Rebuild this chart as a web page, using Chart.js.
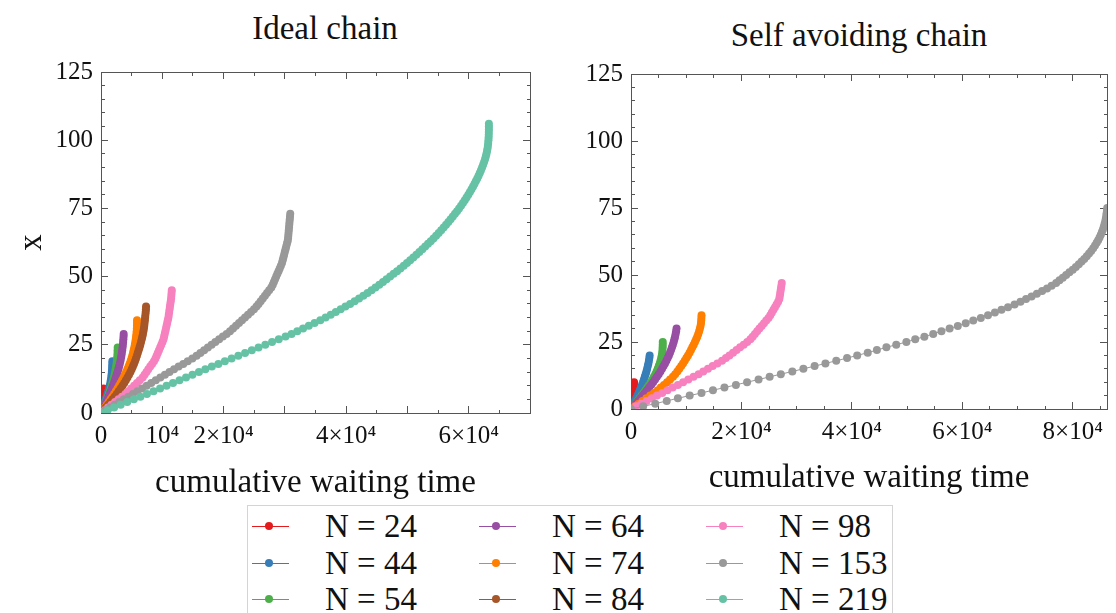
<!DOCTYPE html>
<html>
<head>
<meta charset="utf-8">
<script src="https://cdn.jsdelivr.net/npm/chart.js@4/dist/chart.umd.min.js"></script>
<style>
  html, body { margin: 0; padding: 0; background: #fff; }
  body { width: 1116px; height: 613px; overflow: hidden; position: relative; font-family: "Liberation Serif", "Times New Roman", serif; color: #111; }
  .ptitle { position: absolute; font-size: 33px; line-height: 1; white-space: nowrap; transform: translate(-50%, -50%); }
  canvas { position: absolute; top: 0; }
  #legend { position: absolute; left: 247px; top: 505px; width: 646px; height: 130px; border: 1px solid #d4d4d4; box-sizing: border-box; }
  .item { position: absolute; height: 36px; width: 226px; }
  .mline { position: absolute; left: 2px; top: 18px; width: 37px; height: 1px; }
  .mdot { position: absolute; left: 15px; top: 14px; width: 8px; height: 8px; border-radius: 50%; }
  .mtext { position: absolute; left: 75px; top: 0; font-size: 33px; line-height: 36px; white-space: nowrap; }
</style>
</head>
<body>
<div class="ptitle" id="t1" style="left:325px;top:28px;">Ideal chain</div>
<div class="ptitle" id="t2" style="left:859px;top:35px;">Self avoiding chain</div>
<canvas id="c1" width="560" height="500" style="left:0px;"></canvas>
<canvas id="c2" width="556" height="500" style="left:560px;"></canvas>
<div id="legend"></div>
<script>
// ---------------- data ----------------
const chainLengths = [24, 44, 54, 64, 74, 84, 98, 153, 219];
const seriesColors = ['#e41a1c', '#377eb8', '#4daf4a', '#984ea3', '#ff7f00', '#a65628', '#f781bf', '#999999', '#66c2a5'];

// cumulative waiting time at each position x = 0, 1, 2, ... (ideal chain)
const idealN24 = [0, 60, 120, 180, 230, 280, 320, 360, 385, 400];
const idealN44 = [0, 170, 330, 490, 640, 780, 910, 1050, 1180, 1310, 1420, 1520, 1600, 1670, 1720, 1760, 1795, 1820, 1840, 1850];
const idealN54 = [0, 200, 395, 585, 770, 945, 1115, 1280, 1440, 1590, 1735, 1870, 1995, 2110, 2215, 2310, 2395, 2470, 2535, 2590, 2635, 2670, 2695, 2712, 2720];
const idealN64 = [0, 220, 430, 640, 840, 1040, 1230, 1420, 1600, 1780, 1950, 2110, 2270, 2420, 2560, 2700, 2830, 2950, 3060, 3160, 3250, 3330, 3400, 3460, 3520, 3570, 3610, 3650, 3680, 3700];
const idealN74 = [0, 320, 640, 950, 1260, 1560, 1850, 2140, 2420, 2690, 2950, 3200, 3440, 3670, 3890, 4100, 4300, 4490, 4660, 4820, 4970, 5100, 5220, 5330, 5430, 5520, 5600, 5670, 5730, 5780, 5820, 5850, 5865, 5875, 5880];
const idealN84 = [0, 400, 790, 1170, 1540, 1900, 2240, 2570, 2890, 3200, 3500, 3790, 4060, 4320, 4570, 4800, 5010, 5200, 5380, 5550, 5710, 5860, 6000, 6140, 6280, 6410, 6530, 6650, 6750, 6840, 6920, 7000, 7060, 7110, 7160, 7200, 7250, 7290, 7330, 7350];
const idealN98 = [0, 570, 1140, 1710, 2290, 2860, 3430, 4000, 4470, 4930, 5400, 5870, 6330, 6800, 7110, 7420, 7720, 8030, 8340, 8650, 8890, 9080, 9270, 9460, 9650, 9840, 10030, 10200, 10300, 10400, 10500, 10600, 10700, 10800, 10900, 11000, 11060, 11130, 11190, 11250, 11310, 11380, 11440, 11480, 11510, 11550];
const idealN153 = [0, 745, 1490, 2235, 2980, 3725, 4470, 5215, 5960, 6705, 7450, 8195, 8940, 9685, 10430, 11180, 11920, 12670, 13420, 14160, 14910, 15600, 16220, 16830, 17440, 18050, 18660, 19280, 19890, 20500, 21050, 21540, 22030, 22520, 23010, 23500, 23990, 24480, 24960, 25370, 25710, 26060, 26400, 26750, 27090, 27440, 27790, 28020, 28210, 28400, 28590, 28780, 28970, 29160, 29350, 29530, 29650, 29760, 29880, 29990, 30110, 30220, 30340, 30450, 30520, 30560, 30600, 30640, 30680, 30720, 30760, 30800, 30840, 30880];
const idealN219 = [0, 1070, 2140, 3210, 4280, 5360, 6430, 7500, 8570, 9640, 10700, 11750, 12810, 13870, 14920, 15980, 17030, 18090, 19150, 20210, 21310, 22410, 23510, 24610, 25710, 26810, 27910, 29010, 30120, 31090, 32030, 32970, 33910, 34850, 35790, 36650, 37490, 38310, 39110, 39890, 40650, 41390, 42110, 42810, 43490, 44150, 44790, 45410, 46010, 46600, 47180, 47750, 48310, 48860, 49400, 49930, 50450, 50960, 51460, 51950, 52430, 52900, 53360, 53810, 54250, 54680, 55100, 55510, 55910, 56300, 56680, 57050, 57410, 57760, 58100, 58430, 58750, 59060, 59360, 59650, 59930, 60200, 60460, 60710, 60950, 61180, 61400, 61610, 61810, 62000, 62180, 62350, 62510, 62660, 62790, 62900, 62990, 63070, 63130, 63180, 63220, 63250, 63270, 63280, 63290, 63290, 63290];

// cumulative waiting time at each position x = 0, 1, 2, ... (self avoiding chain)
const saN24 = [0, 80, 160, 230, 300, 360, 420, 470, 510, 540, 560];
const saN44 = [0, 240, 480, 720, 950, 1170, 1390, 1600, 1800, 1990, 2170, 2340, 2500, 2650, 2790, 2920, 3040, 3150, 3240, 3320, 3380];
const saN54 = [0, 390, 780, 1160, 1540, 1910, 2270, 2620, 2960, 3280, 3590, 3880, 4150, 4400, 4630, 4840, 5030, 5200, 5350, 5470, 5570, 5650, 5700, 5730, 5745, 5750];
const saN64 = [0, 430, 860, 1280, 1700, 2110, 2510, 2900, 3280, 3650, 4010, 4360, 4700, 5020, 5330, 5620, 5900, 6160, 6410, 6640, 6860, 7060, 7250, 7420, 7580, 7730, 7860, 7980, 8080, 8170, 8250];
const saN74 = [0, 690, 1390, 2080, 2780, 3470, 4170, 4860, 5400, 5970, 6530, 7070, 7600, 8000, 8400, 8750, 9100, 9420, 9730, 10030, 10320, 10600, 10860, 11110, 11350, 11580, 11800, 12000, 12180, 12340, 12480, 12590, 12670, 12720, 12750, 12770];
const saN98 = [0, 940, 1890, 2830, 3780, 4720, 5660, 6610, 7550, 8500, 9440, 10380, 11330, 12250, 13090, 13940, 14790, 15640, 16490, 17190, 17830, 18480, 19120, 19760, 20410, 21050, 21620, 22030, 22440, 22850, 23260, 23670, 24080, 24490, 24900, 25230, 25510, 25800, 26080, 26360, 26640, 26860, 26930, 27010, 27080, 27150, 27230, 27300];
const saN153 = [0, 2200, 4390, 6470, 8490, 10630, 12770, 14840, 16920, 19000, 21020, 23100, 25110, 27130, 29210, 31220, 33250, 35210, 37170, 39130, 40960, 42870, 44530, 46250, 48030, 49870, 51470, 53130, 54730, 56220, 57700, 59180, 60610, 61980, 63350, 64650, 65900, 67090, 68270, 69460, 70530, 71540, 72540, 73500, 74450, 75340, 76170, 76990, 77600, 78200, 78800, 79400, 80000, 80560, 81100, 81600, 82080, 82530, 82950, 83340, 83700, 84030, 84330, 84600, 84850, 85080, 85280, 85460, 85620, 85760, 85880, 85980, 86060, 86130, 86190, 86240, 86280];

const idealSeries = [idealN24, idealN44, idealN54, idealN64, idealN74, idealN84, idealN98, idealN153, idealN219];
const saSeries = [saN24, saN44, saN54, saN64, saN74, null, saN98, saN153, null];

// axes
const yTickValues = [0, 25, 50, 75, 100, 125];
const yTickLabels = ['0', '25', '50', '75', '100', '125'];
const idealXTickValues = [0, 10000, 20000, 40000, 60000];
const idealXTickLabels = ['0', '10\u2074', '2\u00d710\u2074', '4\u00d710\u2074', '6\u00d710\u2074'];
const saXTickValues = [0, 20000, 40000, 60000, 80000];
const saXTickLabels = ['0', '2\u00d710\u2074', '4\u00d710\u2074', '6\u00d710\u2074', '8\u00d710\u2074'];
const idealXMax = 70000, saXMax = 86200, yMax = 125;
const xMinorStep = 5000, yMinorStep = 5;
const xTitle = 'cumulative waiting time';
const yTitle = 'x';

// ---------------- chart ----------------
Chart.defaults.font.family = "'Liberation Serif', 'Times New Roman', serif";
Chart.defaults.color = '#111';
const FRAME = '#555';

function toPoints(arr) { return arr.map((t, i) => ({ x: t, y: i })); }

function buildDatasets(list) {
  const ds = [];
  list.forEach((arr, i) => {
    if (!arr) return;
    ds.push({
      label: 'N = ' + chainLengths[i],
      data: toPoints(arr),
      showLine: true,
      borderColor: seriesColors[i],
      backgroundColor: seriesColors[i],
      pointBackgroundColor: seriesColors[i],
      pointBorderWidth: 0,
      pointRadius: 4,
      borderWidth: 1,
      order: chainLengths.length - i
    });
  });
  return ds;
}

function labelFrom(vals, labels) {
  return v => { const k = vals.indexOf(v); return k >= 0 ? labels[k] : ''; };
}

function tickList(max, step) {
  const out = [];
  for (let v = 0; v <= max + 1e-9; v += step) out.push({ value: v });
  return out;
}

function gridOpts(majorStep, startsAtTip) {
  const isMajor = ctx => ctx.tick && Math.abs(ctx.tick.value % majorStep) < 1e-6;
  return {
    display: true,
    drawOnChartArea: false,
    drawTicks: true,
    tickLength: -7,
    tickColor: FRAME,
    tickWidth: 1,
    tickBorderDash: ctx => isMajor(ctx) ? [] : [4, 100],
    tickBorderDashOffset: ctx => isMajor(ctx) ? 0 : (startsAtTip ? 101 : 0)
  };
}

function makeChart(canvasId, datasets, cfg) {
  const xTicks = tickList(cfg.xMax, xMinorStep);
  const yTicks = tickList(yMax, yMinorStep);
  const xBase = { type: 'linear', bounds: 'data', min: 0, max: cfg.xMax, afterBuildTicks: s => { s.ticks = xTicks.map(t => ({ value: t.value })); } };
  const yBase = { type: 'linear', bounds: 'data', min: 0, max: yMax, afterBuildTicks: s => { s.ticks = yTicks.map(t => ({ value: t.value })); } };
  const scales = {
    x: {
      ...xBase, position: 'bottom', weight: 1,
      ticks: { autoSkip: false, maxRotation: 0, minRotation: 0, padding: 15.5, font: { size: 25 }, color: '#111', callback: labelFrom(cfg.xTickValues, cfg.xTickLabels) },
      grid: gridOpts(cfg.xMajor, false),
      border: { display: true, color: FRAME, width: 1 },
      title: { display: true, text: xTitle, font: { size: 33, lineHeight: 1 }, color: '#111', padding: { top: 0, bottom: cfg.xTitlePad } },
      afterFit: s => { s.height = cfg.xAxisH; }
    },
    xTop: {
      ...xBase, position: 'top',
      ticks: { display: false, autoSkip: false },
      grid: gridOpts(cfg.xMajor, true),
      border: { display: true, color: FRAME, width: 1 },
      afterFit: s => { s.height = 0; }
    },
    y: {
      ...yBase, position: 'left', weight: 1,
      ticks: { autoSkip: false, padding: 15, font: { size: 25 }, color: '#111', callback: labelFrom(yTickValues, yTickLabels) },
      grid: gridOpts(25, true),
      border: { display: true, color: FRAME, width: 1 },
      title: { display: cfg.showYTitle, text: yTitle, font: { size: 33, lineHeight: 1 }, color: '#111', padding: { top: 15.5, bottom: 0 } },
      afterFit: s => { s.width = cfg.yAxisW; }
    },
    yRight: {
      ...yBase, position: 'right',
      ticks: { display: false, autoSkip: false },
      grid: gridOpts(25, false),
      border: { display: true, color: FRAME, width: 1 },
      afterFit: s => { s.width = 0; }
    }
  };
  return new Chart(document.getElementById(canvasId), {
    type: 'scatter',
    data: { datasets },
    options: {
      responsive: false,
      animation: false,
      devicePixelRatio: 1,
      layout: { padding: cfg.padding },
      plugins: { legend: { display: false }, tooltip: { enabled: false }, title: { display: false } },
      scales
    }
  });
}

makeChart('c1', buildDatasets(idealSeries), {
  xMax: idealXMax, xTickValues: idealXTickValues, xTickLabels: idealXTickLabels, xMajor: 10000,
  xAxisH: 87, yAxisW: 101, xTitlePad: 0.5, showYTitle: true,
  padding: { top: 72, right: 30, bottom: 0, left: 0 }
});
makeChart('c2', buildDatasets(saSeries), {
  xMax: saXMax, xTickValues: saXTickValues, xTickLabels: saXTickLabels, xMajor: 20000,
  xAxisH: 91, yAxisW: 71, xTitlePad: 5.5, showYTitle: false,
  padding: { top: 74, right: 1, bottom: 0, left: 0 }
});

// ---------------- legend ----------------
const legend = document.getElementById('legend');
chainLengths.forEach((n, i) => {
  const col = Math.floor(i / 3), row = i % 3;
  const it = document.createElement('div');
  it.className = 'item';
  it.style.left = (2 + col * 227) + 'px';
  it.style.top = (2 + row * 36.5) + 'px';
  const ln = document.createElement('div'); ln.className = 'mline'; ln.style.background = seriesColors[i];
  const dt = document.createElement('div'); dt.className = 'mdot'; dt.style.background = seriesColors[i];
  const tx = document.createElement('div'); tx.className = 'mtext'; tx.textContent = 'N = ' + n;
  it.appendChild(ln); it.appendChild(dt); it.appendChild(tx);
  legend.appendChild(it);
});
</script>
</body>
</html>
